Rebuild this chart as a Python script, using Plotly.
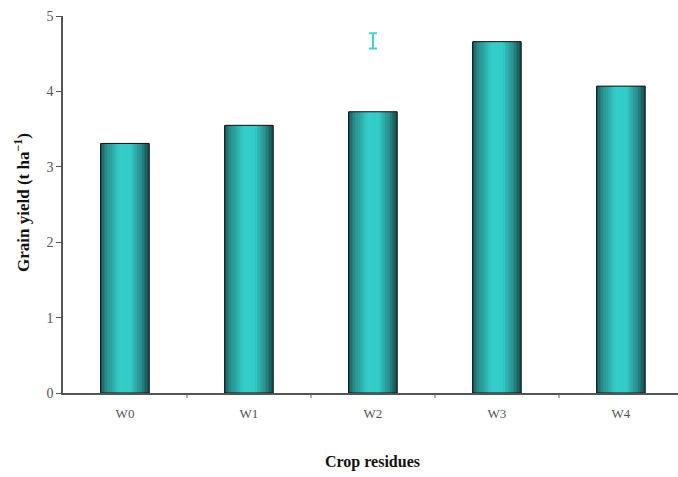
import plotly.graph_objects as go

categories = ["W0", "W1", "W2", "W3", "W4"]
grain_yield = [3.31, 3.55, 3.73, 4.66, 4.07]
lsd_x = ["W2"]
lsd_y = [4.67]
lsd_half = [0.1]
y_ticks = [0, 1, 2, 3, 4, 5]

BAR_W = 0.39
N = 30
stops = [(0.0, (26, 92, 92)), (0.12, (38, 140, 138)), (0.4, (52, 205, 200)),
         (0.62, (51, 204, 200)), (0.85, (40, 140, 138)), (1.0, (24, 78, 78))]

def color_at(t):
    for (t0, c0), (t1, c1) in zip(stops[:-1], stops[1:]):
        if t0 <= t <= t1:
            f = (t - t0) / (t1 - t0) if t1 > t0 else 0
            c = [round(a + (b - a) * f) for a, b in zip(c0, c1)]
            return "rgb(%d,%d,%d)" % tuple(c)
    return "rgb(%d,%d,%d)" % stops[-1][1]

fig = go.Figure()
w = BAR_W / N
for i in range(N):
    t = (i + 0.5) / N
    fig.add_trace(go.Bar(
        x=categories, y=grain_yield, width=w * 1.15, offset=-BAR_W / 2 + i * w,
        marker=dict(color=color_at(t), line=dict(width=0)),
        showlegend=False, hoverinfo="skip"))

fig.add_trace(go.Bar(
    x=categories, y=grain_yield, width=BAR_W, offset=-BAR_W / 2,
    marker=dict(color="rgba(0,0,0,0)", line=dict(color="#111", width=1)),
    showlegend=False))

fig.add_trace(go.Scatter(
    x=lsd_x, y=lsd_y, mode="markers",
    marker=dict(size=1, color="rgba(0,0,0,0)"),
    error_y=dict(type="data", array=lsd_half, color="#3dd8d2", thickness=2, width=4),
    showlegend=False))

plot_w = 678 - 63
plot_h = 477 - 16 - 84

fig.update_layout(
    width=678, height=477,
    margin=dict(l=63, r=0, t=16, b=84),
    barmode="overlay",
    plot_bgcolor="white", paper_bgcolor="white",
    font=dict(family="Liberation Serif", size=13, color="#555"),
    xaxis=dict(
        range=[-0.5, 4.46], showline=True, linecolor="#555", linewidth=1.5,
        ticks="", showgrid=False, tickfont=dict(size=13, color="#555"), ticklabelstandoff=8,
    ),
    yaxis=dict(
        range=[0, 5], tickvals=y_ticks, showline=True, linecolor="#555", linewidth=1.5,
        ticks="outside", ticklen=5, tickcolor="#555", showgrid=False, zeroline=False,
        tickfont=dict(size=14, color="#555"),
    ),
    annotations=[
        dict(text="<b>Grain yield (t ha<sup>\u22121</sup>)</b>", textangle=-90,
             x=(22 - 63) / plot_w, xref="paper", y=(393 - 203) / plot_h, yref="paper",
             xanchor="center", yanchor="middle", showarrow=False,
             font=dict(size=17, color="#111", family="Liberation Serif")),
        dict(text="<b>Crop residues</b>", x=(372 - 63) / plot_w, xref="paper",
             y=(393 - 462) / plot_h, yref="paper", xanchor="center", yanchor="middle",
             showarrow=False, font=dict(size=16, color="#111", family="Liberation Serif")),
    ],
)

# category boundary tick marks
for k in range(1, 5):
    fig.add_shape(type="line", xref="x", yref="paper", x0=k - 0.5, x1=k - 0.5,
                  y0=0, y1=-5 / plot_h, line=dict(color="#555", width=1))

fig.write_html("out.html", config={"displayModeBar": False},
               post_script="document.body.style.margin='0';")
